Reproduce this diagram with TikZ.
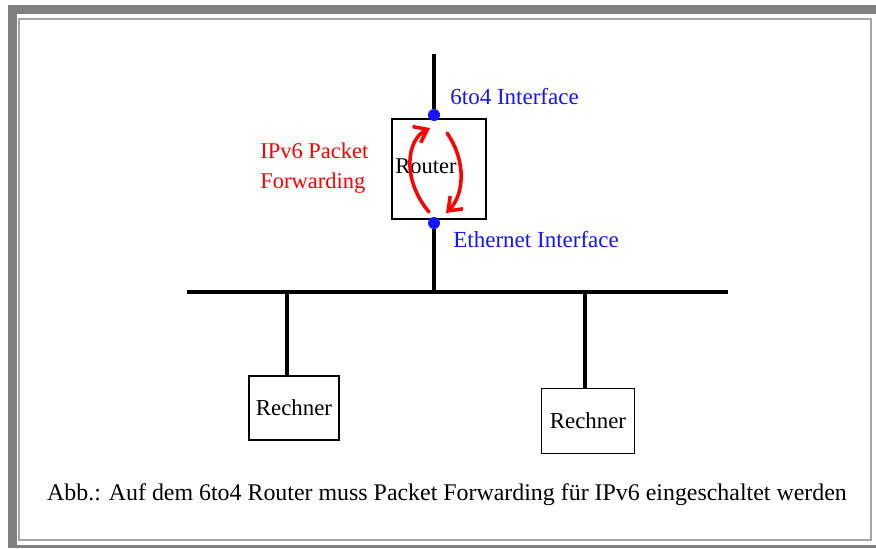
\documentclass[tikz,border=0pt]{standalone}
\usepackage{fontspec}
\setmainfont{Liberation Serif}
\usepackage{tikz}
\usetikzlibrary{arrows.meta,positioning,calc}

\definecolor{framegray}{RGB}{128,128,128}
\definecolor{linegray}{RGB}{165,165,165}
\definecolor{ifblue}{RGB}{20,20,255}

\tikzset{
  box/.style={draw, line width=0.8pt, fill=white, inner sep=0pt},
  bus/.style={line width=2.4pt},
  port/.style={circle, fill=ifblue, inner sep=0pt, minimum size=0.24cm},
  iflabel/.style={ifblue, anchor=west, inner sep=0pt, font=\fontsize{13.1}{15}\selectfont},
  fwd/.style={red, line width=2pt, line cap=round, -{Straight Barb[length=0.24cm, width=0.36cm]}},
}

\begin{document}
\begin{tikzpicture}[x=0.02cm, y=-0.02cm]

	%Rahmen
	\useasboundingbox (0,0) rectangle (876,548);
	\fill[framegray] (8,5) rectangle (876,14);
	\fill[framegray] (8,5) rectangle (17,548);
	\fill[framegray] (8,545) rectangle (876,548);
	\draw[linegray, line width=0.6pt] (19,19) rectangle (871,540);

	%Router
	\node[box, minimum width=1.88cm, minimum height=2.0cm] (router) at (439,169) {};
	\node[font=\fontsize{12.8}{15}\selectfont, inner sep=0pt] (routertext) at (426,166) {Router};
	\coordinate (uplink) at (434,54);
	\node[port] (tunnel) at (434,115) {};
	\node[port] (eth) at (434,223) {};
	\draw[bus] (uplink) -- (tunnel);

	%Bus
	\coordinate (busleft) at (187,292);
	\coordinate (busright) at (728,292);
	\coordinate (busmid) at (434,292);
	\coordinate (tapleft) at (287,292);
	\coordinate (tapright) at (585,292);
	\draw[bus] (busleft) -- (busright);
	\draw[bus] (eth) -- (busmid);

	%Rechner
	\node[box, minimum width=1.8cm, minimum height=1.28cm, font=\fontsize{13}{15}\selectfont] (pc1) at (294,408) {Rechner};
	\node[box, minimum width=1.86cm, minimum height=1.3cm, font=\fontsize{13}{15}\selectfont] (pc2) at (588,421) {Rechner};
	\draw[bus] (tapleft) -- (tapleft |- pc1.north);
	\draw[bus] (tapright) -- (tapright |- pc2.north);

	%Beschriftung
	\node[iflabel] (tunnellabel) at (450,97) {6to4 Interface};
	\node[iflabel] (ethlabel) at (453,240) {Ethernet Interface};
	\node[red, anchor=west, align=left, inner sep=0pt, font=\fontsize{12.8}{17}\selectfont] (fwdlabel) at (260,168) {IPv6 Packet\\Forwarding};

	%Forwarding
	\draw[fwd] (429,212) .. controls (402,180) and (406,140) .. (430,128);
	\draw[fwd] (447,133) .. controls (467,162) and (464,195) .. (446,213);

	\node[font=\fontsize{13.6}{16}\selectfont, inner sep=0pt] (caption) at (447,495)
		{Abb.: Auf dem 6to4 Router muss Packet Forwarding für IPv6 eingeschaltet werden};

\end{tikzpicture}
\end{document}
